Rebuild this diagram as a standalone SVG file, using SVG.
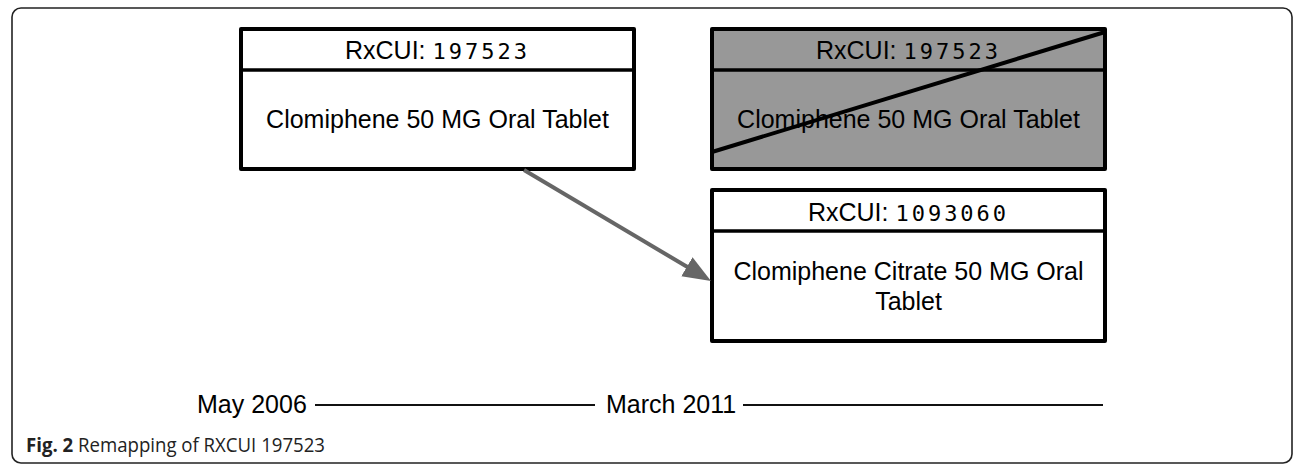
<svg xmlns="http://www.w3.org/2000/svg" width="1296" height="465" viewBox="0 0 1296 465">
<style>
.box{stroke:#000;stroke-width:4;stroke-linejoin:round}
.sep{stroke:#000;stroke-width:3.5}
.t{font-family:"Liberation Sans",Arial,Helvetica,sans-serif;font-size:25px;fill:#000;text-anchor:middle}
.mono{font-family:"DejaVu Sans Mono","Liberation Mono",monospace;font-size:22px;letter-spacing:3px}
.tl{font-family:"Liberation Sans",Arial,Helvetica,sans-serif;font-size:25px;fill:#000}
.cap{font-family:"Open Sans","Liberation Sans",sans-serif;font-size:20px;fill:#222}
</style>
<defs>
<marker id="ah" markerUnits="userSpaceOnUse" markerWidth="30" markerHeight="24" refX="8" refY="11" orient="auto">
<path d="M0,0 L28,11 L0,22 z" fill="#666"/>
</marker>
</defs>
<rect x="12" y="8" width="1280" height="455" rx="9" ry="9" fill="#fff" stroke="#222" stroke-width="1.6"/>
<g id="node-old">
<rect class="box" x="241" y="29" width="393" height="140" fill="#fff"/>
<line class="sep" x1="241" y1="70" x2="634" y2="70"/>
<text class="t" x="437.5" y="59">RxCUI: <tspan class="mono">197523</tspan></text>
<text class="t" x="437.5" y="128">Clomiphene 50 MG Oral Tablet</text>
</g>
<g id="node-retired">
<rect class="box" x="712" y="29" width="393" height="140" fill="#989898"/>
<line class="sep" x1="712" y1="70" x2="1105" y2="70"/>
<text class="t" x="908.5" y="59">RxCUI: <tspan class="mono">197523</tspan></text>
<text class="t" x="908.5" y="128">Clomiphene 50 MG Oral Tablet</text>
<line x1="712" y1="152" x2="1105" y2="32" stroke="#000" stroke-width="4"/>
</g>
<g id="node-new">
<rect class="box" x="712" y="190" width="393" height="151" fill="#fff"/>
<line class="sep" x1="712" y1="231" x2="1105" y2="231"/>
<text class="t" x="908.5" y="221">RxCUI: <tspan class="mono">1093060</tspan></text>
<text class="t" x="908.5" y="280">Clomiphene Citrate 50 MG Oral</text>
<text class="t" x="908.5" y="310">Tablet</text>
</g>
<g id="connectors">
<line x1="524" y1="170" x2="693.8" y2="270.8" stroke="#666" stroke-width="4" marker-end="url(#ah)"/>
</g>
<g id="timeline">
<text class="tl" x="197" y="413">May 2006</text>
<line x1="315" y1="405" x2="595" y2="405" stroke="#111" stroke-width="1.8"/>
<text class="tl" x="606" y="413">March 2011</text>
<line x1="743" y1="405" x2="1103" y2="405" stroke="#111" stroke-width="1.8"/>
</g>
<text class="cap" x="26" y="452" textLength="299" lengthAdjust="spacingAndGlyphs"><tspan font-weight="bold">Fig. 2</tspan> Remapping of RXCUI 197523</text>
</svg>
